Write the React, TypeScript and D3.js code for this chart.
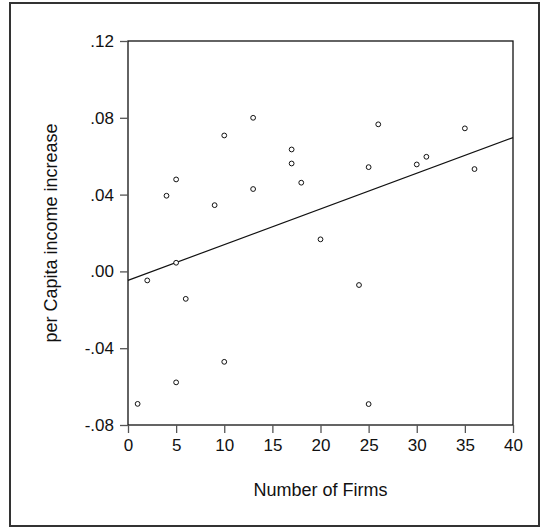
import React, { useEffect, useRef } from 'react';
import * as d3 from 'd3';

// number of firms and per capita income increase
const firms = [1, 2, 4, 5, 5, 5, 6, 9, 10, 10, 13, 13, 17, 17, 18, 20, 24, 25, 25, 26, 30, 31, 35, 36];
const incomeIncrease = [
  -0.069, -0.0047, 0.0394, 0.0479, 0.0045, -0.0578, -0.0143, 0.0345, 0.0708, -0.0471,
  0.080, 0.0429, 0.0635, 0.0562, 0.0462, 0.0167, -0.0071, 0.0543, -0.0691, 0.0766,
  0.0557, 0.0597, 0.0745, 0.0533,
];
const xTicks = [0, 5, 10, 15, 20, 25, 30, 35, 40];
const yTicks = [-0.08, -0.04, 0, 0.04, 0.08, 0.12];

const App: React.FC = () => {
  const chartRef = useRef<SVGSVGElement>(null);

  useEffect(() => {
    const svg = d3.select(chartRef.current);
    svg.selectAll('*').remove();

    const margin = { top: 41, right: 28, bottom: 103, left: 128 };
    const width = 541 - margin.left - margin.right;
    const height = 528 - margin.top - margin.bottom;
    const font = 'Liberation Sans, Arial, sans-serif';

    // outer frame
    svg.append('rect')
      .attr('x', 10).attr('y', 3)
      .attr('width', 529).attr('height', 523)
      .attr('fill', 'white')
      .attr('stroke', '#333').attr('stroke-width', 2);

    const x = d3.scaleLinear().domain([0, 40]).range([0, width]);
    const y = d3.scaleLinear().domain([-0.08, 0.12]).range([height, 0]);

    const g = svg.append('g')
      .attr('transform', `translate(${margin.left},${margin.top})`);

    g.append('rect')
      .attr('width', width).attr('height', height)
      .attr('fill', 'none').attr('stroke', '#111').attr('stroke-width', 1.3);

    const xAxis = g.append('g')
      .attr('transform', `translate(0,${height})`)
      .call(d3.axisBottom(x).tickValues(xTicks).tickSize(8).tickPadding(6).tickFormat(d3.format('d')));

    const yFmt = (v: number) => {
      const s = Math.abs(v).toFixed(2).replace('0.', '.');
      return v < -1e-9 ? '-' + s : s;
    };
    const yAxis = g.append('g')
      .call(d3.axisLeft(y).tickValues(yTicks).tickSize(8).tickPadding(6).tickFormat(d => yFmt(+d)));

    [xAxis, yAxis].forEach(a => {
      a.select('.domain').remove();
      a.selectAll('line').attr('stroke', '#555').attr('stroke-width', 1.3);
      a.selectAll('text').attr('font-family', font).attr('font-size', 17).attr('fill', '#111');
    });

    // least squares fit
    const n = firms.length;
    const mx = d3.mean(firms) as number;
    const my = d3.mean(incomeIncrease) as number;
    const sxy = d3.sum(firms, (v, i) => (v - mx) * (incomeIncrease[i] - my));
    const sxx = d3.sum(firms, v => (v - mx) * (v - mx));
    const slope = sxy / sxx;
    const intercept = my - slope * mx;
    const fit = [0, 40].map(v => ({ x: v, y: intercept + slope * v }));

    g.append('path')
      .datum(fit)
      .attr('fill', 'none').attr('stroke', '#111').attr('stroke-width', 1.2)
      .attr('d', d3.line<{ x: number; y: number }>().x(d => x(d.x)).y(d => y(d.y)));

    g.selectAll('.pt')
      .data(d3.range(n))
      .enter().append('circle')
      .attr('class', 'pt')
      .attr('cx', i => x(firms[i]))
      .attr('cy', i => y(incomeIncrease[i]))
      .attr('r', 2.4)
      .attr('fill', 'white').attr('stroke', '#111').attr('stroke-width', 1);

    svg.append('text')
      .attr('x', margin.left + width / 2).attr('y', 496)
      .attr('text-anchor', 'middle')
      .attr('font-family', font).attr('font-size', 18).attr('fill', '#111')
      .text('Number of Firms');

    svg.append('text')
      .attr('transform', `translate(57,${margin.top + height / 2}) rotate(-90)`)
      .attr('text-anchor', 'middle')
      .attr('font-family', font).attr('font-size', 18).attr('fill', '#111')
      .text('per Capita income increase');
  }, []);

  return (
    <svg ref={chartRef} width={541} height={528}
      style={{ position: 'absolute', left: 0, top: 0, display: 'block', background: 'white' }} />
  );
};

export default App;
